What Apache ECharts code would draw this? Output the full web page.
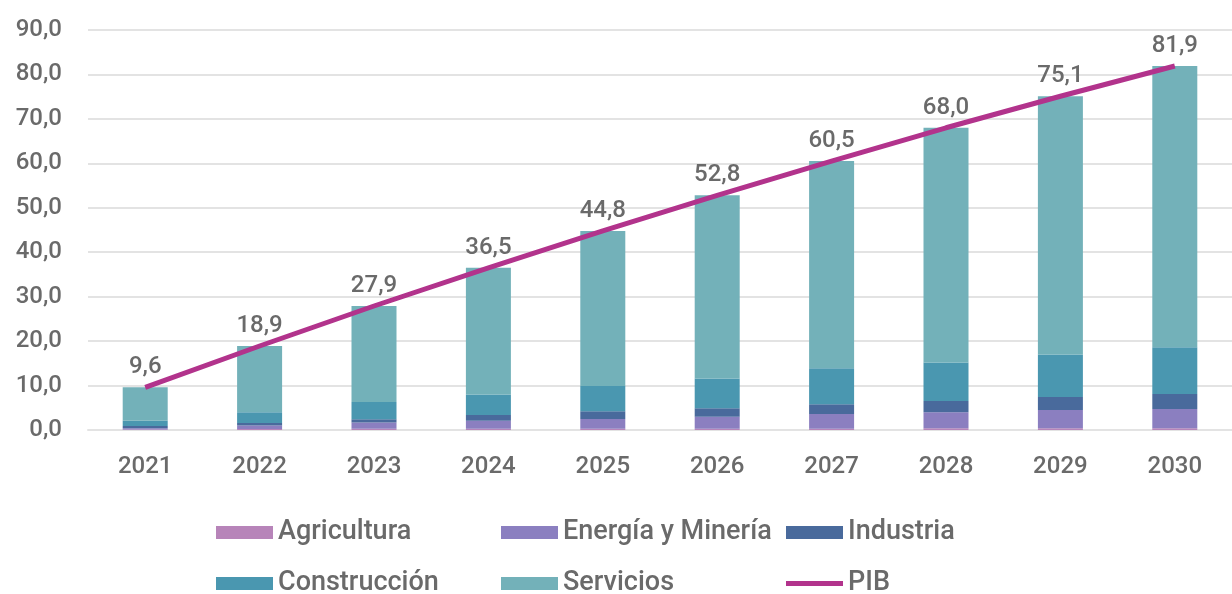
<!DOCTYPE html>
<html>
<head>
<meta charset="utf-8">
<script src="https://cdn.jsdelivr.net/npm/echarts@6/dist/echarts.min.js"></script>
<style>
html,body{margin:0;padding:0;background:#fff;}
#c{width:1232px;height:594px;}
</style>
</head>
<body>
<div id="c"></div>
<script>
const years = ['2021','2022','2023','2024','2025','2026','2027','2028','2029','2030'];
const agricultura = [0.1, 0.2, 0.3, 0.3, 0.3, 0.3, 0.3, 0.4, 0.4, 0.4];
const energia = [0.3, 0.8, 1.4, 1.8, 2.2, 2.7, 3.3, 3.6, 4.1, 4.3];
const industria = [0.5, 0.6, 0.7, 1.3, 1.7, 1.9, 2.2, 2.5, 2.9, 3.4];
const construccion = [1.2, 2.4, 3.9, 4.6, 5.7, 6.7, 8.1, 8.7, 9.6, 10.5];
const servicios = [7.5, 14.9, 21.6, 28.5, 34.9, 41.2, 46.6, 52.8, 58.1, 63.3];
const pib = [9.6, 18.9, 27.9, 36.5, 44.8, 52.8, 60.5, 68.0, 75.1, 81.9];

const numFont = "Roboto, 'Noto Sans', sans-serif";
const txtFont = "Roboto, 'Noto Sans', sans-serif";
const grey = '#6a6a6a';
const fmt = v => Number(v).toFixed(1).replace('.', ',');

const colors = {
  'Agricultura': '#b784b9',
  'Energía y Minería': '#8b7fc0',
  'Industria': '#496a9c',
  'Construcción': '#4a97b0',
  'Servicios': '#73b1b9',
  'PIB': '#b2338c'
};

function barSeries(name, data) {
  return {
    name: name, type: 'bar', stack: 'total', data: data, barWidth: 45,
    itemStyle: { color: colors[name] }
  };
}

function leg(name, left, top, isLine) {
  return {
    data: [name], left: left, top: top, padding: 0,
    itemWidth: 57, itemHeight: isLine ? 5 : 13, icon: 'rect', itemGap: 0,
    textStyle: { fontFamily: txtFont, fontSize: 27, fontWeight: 500, color: grey, padding: [0,0,0,0] },
    selectedMode: false
  };
}

const chart = echarts.init(document.getElementById('c'), null, { renderer: 'canvas' });
chart.setOption({
  animation: false,
  grid: { left: 88, right: -10, top: 30, bottom: 164 },
  legend: [
    leg('Agricultura', 216, 519, false),
    leg('Energía y Minería', 501, 519, false),
    leg('Industria', 786, 519, false),
    leg('Construcción', 216, 570, false),
    leg('Servicios', 501, 570, false),
    leg('PIB', 786, 570, true)
  ],
  xAxis: {
    type: 'category', data: years,
    axisLine: { lineStyle: { color: '#e3e3e3', width: 2 } },
    axisTick: { show: false },
    axisLabel: { fontFamily: numFont, fontSize: 24, fontWeight: 500, color: grey, margin: 25 }
  },
  yAxis: {
    type: 'value', min: 0, max: 90, interval: 10,
    axisLine: { show: false }, axisTick: { show: false },
    splitLine: { lineStyle: { color: '#e3e3e3', width: 2 } },
    axisLabel: { fontFamily: numFont, fontSize: 24, fontWeight: 500, color: grey, margin: 26, formatter: fmt }
  },
  series: [
    barSeries('Agricultura', agricultura),
    barSeries('Energía y Minería', energia),
    barSeries('Industria', industria),
    barSeries('Construcción', construccion),
    barSeries('Servicios', servicios),
    {
      name: 'PIB', type: 'line', data: pib,
      symbol: 'circle', symbolSize: 0.1, showSymbol: true,
      lineStyle: { color: colors['PIB'], width: 5 },
      itemStyle: { color: colors['PIB'] },
      label: { show: true, position: 'top', distance: 8, fontFamily: numFont, fontSize: 24, fontWeight: 500, color: grey, formatter: p => fmt(p.value) },
      z: 5
    }
  ]
});
</script>
</body>
</html>
